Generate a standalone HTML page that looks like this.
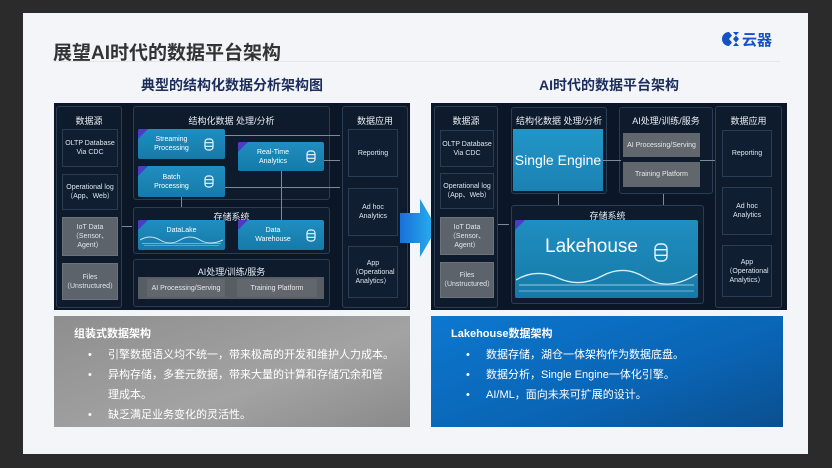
<!DOCTYPE html>
<html><head><meta charset="utf-8"><style>
*{margin:0;padding:0;box-sizing:border-box}
body{width:832px;height:468px;background:#2b2b2b;position:relative;overflow:hidden;font-family:"Liberation Sans","Noto Sans CJK SC",sans-serif}
.a{position:absolute}
.slide{left:23px;top:13px;width:785px;height:441px;background:#f3f5f8}
.panel{background:#0b1626;}
.c{position:absolute;border:1px solid #2b3d55;border-radius:3px;background:#0e1b2d}
.bx{position:absolute;border:1px solid #2b3d55;background:#0f1e31;color:#dfe6ee;font-size:7px;line-height:9px;display:flex;align-items:center;justify-content:center;text-align:center}
.g{background:#5d636b;border-color:#6c727a}
.h{position:absolute;color:#e8edf3;font-size:9px;text-align:center;width:100%}
.blue{position:absolute;background:linear-gradient(180deg,#1f8ec0,#167aa8);color:#fff;font-size:7px;line-height:9px;display:flex;align-items:center;justify-content:center;text-align:center;overflow:hidden;border-radius:2px}
.blue:before{content:"";position:absolute;left:0;top:0;border-top:10px solid #4b3cc6;border-right:10px solid transparent}
.gb{position:absolute;background:#62676e;color:#e8e8e8;font-size:7px;display:flex;align-items:center;justify-content:center}
.ln{position:absolute;background:#7d8a99}
.bl{position:absolute;color:#fff;font-size:11px}
.li{position:relative;padding-left:20px}
.li:before{content:"•";position:absolute;left:0}
</style></head><body>
<div class="a slide"></div>
<div class="a" style="left:53px;top:38px;font-size:19px;font-weight:bold;color:#333">展望AI时代的数据平台架构</div>
<div class="a" style="left:53px;top:61px;width:727px;height:1px;background:#e2e5ea"></div>
<div class="a" style="left:722px;top:32px;width:58px;height:17px;color:#1352c4;font-weight:bold;font-size:15px;line-height:17px">
<svg width="20" height="14" style="vertical-align:-1px" viewBox="0 0 20 14"><path d="M7 0a7 7 0 1 0 0 14l3-3.5-3-3.5 3-3.5z" fill="#1352c4"/><path d="M11 0h6l-3 3.5 3 3.5-3 3.5 3 3.5h-6l3-3.5-3-3.5 3-3.5z" fill="#1352c4"/></svg>云器</div>
<div class="a" style="left:54px;top:75px;width:356px;text-align:center;font-size:14px;font-weight:bold;color:#1c2d5c">典型的结构化数据分析架构图</div>
<div class="a" style="left:431px;top:75px;width:356px;text-align:center;font-size:14px;font-weight:bold;color:#1c2d5c">AI时代的数据平台架构</div>

<!-- LEFT PANEL -->
<div class="a panel" style="left:54px;top:103px;width:356px;height:207px"></div>
<div class="c" style="left:56px;top:106px;width:66px;height:202px"><div class="h" style="top:7px">数据源</div></div>
<div class="bx" style="left:62px;top:129px;width:56px;height:38px">OLTP Database<br>Via CDC</div>
<div class="bx" style="left:62px;top:174px;width:56px;height:36px">Operational log<br>（App、Web）</div>
<div class="bx g" style="left:62px;top:217px;width:56px;height:39px">IoT Data<br>（Sensor、<br>Agent）</div>
<div class="bx g" style="left:62px;top:263px;width:56px;height:37px">Files<br>（Unstructured）</div>

<div class="c" style="left:133px;top:106px;width:197px;height:94px"><div class="h" style="top:7px">结构化数据 处理/分析</div></div>
<div class="c" style="left:133px;top:207px;width:197px;height:47px"><div class="h" style="top:2px">存储系统</div></div>
<div class="c" style="left:133px;top:259px;width:197px;height:48px"><div class="h" style="top:5px">AI处理/训练/服务</div></div>
<div class="ln" style="left:225px;top:135px;width:115px;height:1px"></div>
<div class="ln" style="left:225px;top:187px;width:115px;height:1px"></div>
<div class="ln" style="left:324px;top:160px;width:16px;height:1px"></div>
<div class="ln" style="left:281px;top:171px;width:1px;height:50px"></div>
<div class="ln" style="left:181px;top:197px;width:1px;height:10px"></div>
<div class="ln" style="left:122px;top:226px;width:10px;height:1px"></div>
<div class="blue" style="left:138px;top:129px;width:87px;height:30px;padding-right:20px">Streaming<br>Processing</div>
<div class="blue" style="left:138px;top:166px;width:87px;height:31px;padding-right:20px">Batch<br>Processing</div>
<div class="blue" style="left:238px;top:142px;width:86px;height:29px;padding-right:16px">Real-Time<br>Analytics</div>
<div class="blue" style="left:138px;top:220px;width:87px;height:30px;align-items:flex-start;padding-top:6px">DataLake</div>
<div class="blue" style="left:238px;top:220px;width:86px;height:30px;padding-right:16px">Data<br>Warehouse</div>
<svg class="a" style="left:140px;top:234px" width="83" height="14" viewBox="0 0 83 14"><path d="M0 6 Q10 0 20 6 T40 6 T60 6 T83 6" stroke="#cfe9f7" fill="none" stroke-width="1"/><g fill="#bfe3f5"><rect x="2" y="9" width="79" height="1" opacity=".5"/><rect x="4" y="11" width="75" height="1" opacity=".4"/></g></svg>
<svg class="a" style="left:204px;top:138px" width="10" height="13" viewBox="0 0 10 13"><g fill="none" stroke="#e8f6ff" stroke-width="1.2"><rect x="1" y="1" width="8" height="11" rx="3"/><path d="M1 4.7h8M1 8.3h8"/></g></svg>
<svg class="a" style="left:204px;top:175px" width="10" height="13" viewBox="0 0 10 13"><g fill="none" stroke="#e8f6ff" stroke-width="1.2"><rect x="1" y="1" width="8" height="11" rx="3"/><path d="M1 4.7h8M1 8.3h8"/></g></svg>
<svg class="a" style="left:306px;top:150px" width="10" height="13" viewBox="0 0 10 13"><g fill="none" stroke="#e8f6ff" stroke-width="1.2"><rect x="1" y="1" width="8" height="11" rx="3"/><path d="M1 4.7h8M1 8.3h8"/></g></svg>
<svg class="a" style="left:306px;top:229px" width="10" height="13" viewBox="0 0 10 13"><g fill="none" stroke="#e8f6ff" stroke-width="1.2"><rect x="1" y="1" width="8" height="11" rx="3"/><path d="M1 4.7h8M1 8.3h8"/></g></svg>
<div class="a" style="left:138px;top:277px;width:186px;height:22px;background:#585d64"></div>
<div class="gb" style="left:147px;top:279px;width:78px;height:18px">AI Processing/Serving</div>
<div class="gb" style="left:237px;top:279px;width:80px;height:18px">Training Platform</div>

<div class="c" style="left:342px;top:106px;width:66px;height:202px"><div class="h" style="top:7px">数据应用</div></div>
<div class="bx" style="left:348px;top:129px;width:50px;height:48px">Reporting</div>
<div class="bx" style="left:348px;top:188px;width:50px;height:48px">Ad hoc<br>Analytics</div>
<div class="bx" style="left:348px;top:246px;width:50px;height:52px">App<br>（Operational<br>Analytics）</div>

<!-- ARROW -->
<svg class="a" style="left:400px;top:199px" width="38" height="58" viewBox="0 0 38 58"><defs><linearGradient id="ag" x1="0" x2="1"><stop offset="0" stop-color="#1a6fd8"/><stop offset="1" stop-color="#27b5f0"/></linearGradient></defs><path d="M0 14h20V0l17 29-17 29V44H0z" fill="url(#ag)"/></svg>

<!-- RIGHT PANEL -->
<div class="a panel" style="left:431px;top:103px;width:356px;height:207px"></div>
<div class="c" style="left:434px;top:106px;width:64px;height:202px"><div class="h" style="top:7px">数据源</div></div>
<div class="bx" style="left:440px;top:130px;width:54px;height:37px">OLTP Database<br>Via CDC</div>
<div class="bx" style="left:440px;top:173px;width:54px;height:36px">Operational log<br>（App、Web）</div>
<div class="bx g" style="left:440px;top:217px;width:54px;height:38px">IoT Data<br>（Sensor、<br>Agent）</div>
<div class="bx g" style="left:440px;top:262px;width:54px;height:36px">Files<br>（Unstructured）</div>

<div class="c" style="left:511px;top:107px;width:96px;height:87px"><div class="h" style="top:6px">结构化数据 处理/分析</div></div>
<div class="a" style="left:513px;top:129px;width:90px;height:62px;background:linear-gradient(180deg,#2395c8,#1a82b2);color:#fff;font-size:14px;display:flex;align-items:center;justify-content:center">Single Engine</div>
<div class="c" style="left:619px;top:107px;width:94px;height:87px"><div class="h" style="top:6px">AI处理/训练/服务</div></div>
<div class="gb" style="left:623px;top:133px;width:77px;height:24px">AI Processing/Serving</div>
<div class="gb" style="left:623px;top:162px;width:77px;height:25px">Training Platform</div>
<div class="ln" style="left:603px;top:160px;width:18px;height:1px"></div>
<div class="ln" style="left:700px;top:160px;width:18px;height:1px"></div>
<div class="ln" style="left:558px;top:194px;width:1px;height:11px"></div>
<div class="ln" style="left:663px;top:194px;width:1px;height:11px"></div>
<div class="ln" style="left:498px;top:224px;width:11px;height:1px"></div>

<div class="c" style="left:511px;top:205px;width:193px;height:99px"><div class="h" style="top:3px">存储系统</div></div>
<div class="blue" style="left:515px;top:220px;width:183px;height:78px;font-size:19px;align-items:flex-start;padding-top:22px;padding-right:30px">Lakehouse</div>
<svg class="a" style="left:654px;top:243px" width="14" height="19" viewBox="0 0 14 19"><g fill="none" stroke="#e8f6ff" stroke-width="1.4"><rect x="1" y="1" width="12" height="17" rx="4.5"/><path d="M1 6.7h12M1 12.3h12"/></g></svg>
<svg class="a" style="left:516px;top:268px" width="181" height="28" viewBox="0 0 181 28"><path d="M0 12 Q20 0 42 10 T86 8 T130 10 T181 6" stroke="#d5effb" fill="none" stroke-width="1.3"/><g fill="#bfe3f5" opacity=".75"><rect x="3" y="16" width="175" height="2" opacity=".5"/><rect x="3" y="22" width="175" height="2" opacity=".35"/></g></svg>

<div class="c" style="left:715px;top:106px;width:67px;height:202px"><div class="h" style="top:7px">数据应用</div></div>
<div class="bx" style="left:722px;top:130px;width:50px;height:47px">Reporting</div>
<div class="bx" style="left:722px;top:187px;width:50px;height:48px">Ad hoc<br>Analytics</div>
<div class="bx" style="left:722px;top:245px;width:50px;height:52px">App<br>（Operational<br>Analytics）</div>

<!-- BOTTOM -->
<div class="a" style="left:54px;top:316px;width:356px;height:111px;background:linear-gradient(160deg,#8e8e8e,#a3a3a3 60%,#8a8a8a)"></div>
<div class="bl" style="left:74px;top:325px;font-weight:bold">组装式数据架构</div>
<div class="bl" style="left:88px;top:345px;line-height:20px;width:320px">
<div class="li">引擎数据语义均不统一，带来极高的开发和维护人力成本。</div>
<div class="li">异构存储，多套元数据，带来大量的计算和存储冗余和管<br>理成本。</div>
<div class="li">缺乏满足业务变化的灵活性。</div></div>
<div class="a" style="left:431px;top:316px;width:352px;height:111px;background:linear-gradient(160deg,#0c78cf,#0a64b4 60%,#0a4f8f)"></div>
<div class="bl" style="left:451px;top:325px;font-weight:bold">Lakehouse数据架构</div>
<div class="bl" style="left:466px;top:345px;line-height:20px;width:300px">
<div class="li">数据存储，湖仓一体架构作为数据底盘。</div>
<div class="li">数据分析，Single Engine一体化引擎。</div>
<div class="li">AI/ML，面向未来可扩展的设计。</div></div>
</body></html>
